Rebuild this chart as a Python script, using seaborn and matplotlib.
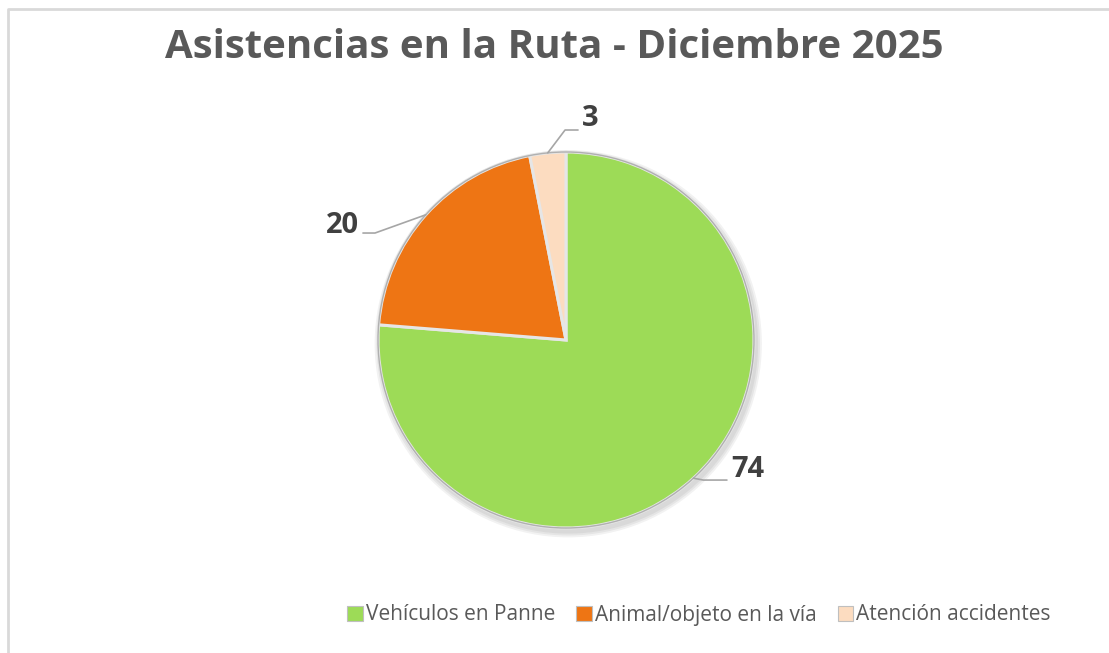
import numpy as np
import matplotlib
matplotlib.use("Agg")
import matplotlib.pyplot as plt
import matplotlib.patches as mpatches
from matplotlib.lines import Line2D
import seaborn as sns

# datos del grafico
categorias = ['Vehículos en Panne', 'Animal/objeto en la vía', 'Atención accidentes']
valores = [74, 20, 3]
colores = ['#9ddb57', '#ee7514', '#fcdcc0']
titulo = 'Asistencias en la Ruta - Diciembre 2025'

sns.set_theme(style='white')
plt.rcParams['font.family'] = ['Open Sans', 'DejaVu Sans']

W, H = 1109, 653
fig = plt.figure(figsize=(W / 100, H / 100), dpi=100)

# borde del area del grafico (arriba e izquierda)
fig.add_artist(Line2D([8 / W, 8 / W, 1.0], [0.0, 1 - 9 / H, 1 - 9 / H],
                      transform=fig.transFigure, color='#d9d9d9', lw=2))

fig.text(0.5, 1 - 47 / H, titulo, ha='center', va='center',
         fontsize=29, fontweight='bold', color='#595959')

# ejes del pastel: centro (566, 340) px, radio 188 px
cx, cy, r = 566, 340, 188
ax = fig.add_axes([(cx - r) / W, (H - cy - r) / H, 2 * r / W, 2 * r / H])

wedges, _ = ax.pie(valores, colors=colores, startangle=90, counterclock=False,
                   radius=1.0, wedgeprops=dict(edgecolor='#e6e6e6', linewidth=2.2))
ax.set_xlim(-1, 1)
ax.set_ylim(-1, 1)
ax.set_aspect('equal')
ax.axis('off')
for w in wedges:
    w.set_zorder(2)

# sombra suave y contorno
for k in range(3):
    ax.add_patch(mpatches.Circle((0.012, -0.02), 1.0 + 0.01 * (k + 1),
                                 color='black', alpha=0.05, lw=0, zorder=0,
                                 clip_on=False))
ax.add_patch(mpatches.Circle((0, 0), 1.0, fill=False, edgecolor='#b0b0b0',
                             lw=1.0, zorder=3, clip_on=False))

# etiquetas con lineas guia (codo, fin de linea, posicion de texto, alineacion)
guias = [
    ((0.73, -0.745), (0.856, -0.745), (0.88, -0.69), 'left'),
    ((-1.016, 0.569), (-1.08, 0.569), (-1.10, 0.61), 'right'),
    ((-0.005, 1.117), (0.064, 1.117), (0.085, 1.18), 'left'),
]
for w, v, (codo, fin, pos, ha) in zip(wedges, valores, guias):
    ang = np.deg2rad((w.theta1 + w.theta2) / 2)
    x0, y0 = np.cos(ang), np.sin(ang)
    ax.plot([x0, codo[0], fin[0]], [y0, codo[1], fin[1]], color='#a6a6a6',
            lw=1.2, zorder=4, clip_on=False)
    ax.text(pos[0], pos[1], str(v), ha=ha, va='center', fontsize=21,
            fontweight='bold', color='#404040', clip_on=False)

handles = [mpatches.Patch(facecolor=c, edgecolor='#bfbfbf', lw=0.8) for c in colores]
fig.legend(handles, categorias, loc='center', bbox_to_anchor=(699 / W, 1 - 615 / H),
           ncol=3, frameon=False, fontsize=15, labelcolor='#595959',
           handlelength=0.75, handleheight=0.75, handletextpad=0.15,
           columnspacing=1.0)

fig.savefig('out.png', dpi=100, facecolor='white')
